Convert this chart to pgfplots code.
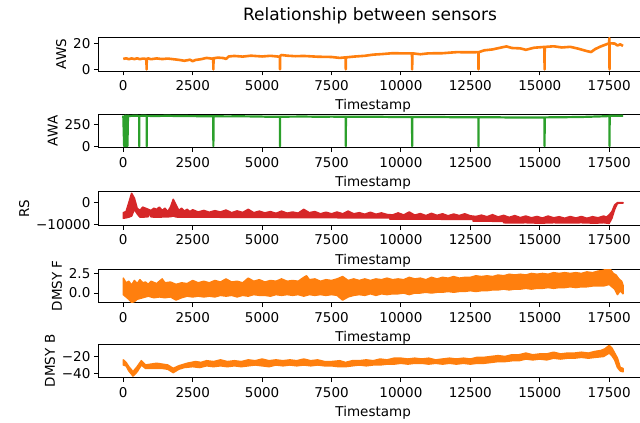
\documentclass[border=0pt]{standalone}
\usepackage{pgfplots}
\pgfplotsset{compat=1.18}
\usepackage{fontspec}
\setmainfont{DejaVu Sans}
\definecolor{tabor}{HTML}{FF7F0E}
\definecolor{tabgr}{HTML}{2CA02C}
\definecolor{tabrd}{HTML}{D62728}
\pgfplotsset{
 sub/.style={scale only axis, width=549.7pt, height=33.7pt, xmin=-900, xmax=18900, anchor=north west,
  xtick={0,2500,...,17500}, xticklabels={0,2500,5000,7500,10000,12500,15000,17500},
  scaled ticks=false,
  tick align=outside, tick pos=left, major tick length=4.4pt,
  tick style={black, line width=1pt}, axis line style={line width=1pt},
  ticklabel style={font=\fontsize{13.5}{15}\selectfont},
  xticklabel style={yshift=-1.5pt},
  label style={font=\fontsize{13.5}{15}\selectfont},
  xlabel={Timestamp}, xlabel style={yshift=-2pt}, clip=true,
  /pgf/number format/assume math mode=true},
}
\begin{document}
\begin{tikzpicture}
\node[font=\fontsize{17}{20}\selectfont] at (370pt,-16pt) {Relationship between sensors};
% AWS
\begin{axis}[sub, at={(98.3pt,-37.3pt)}, ymin=-1.25, ymax=24.6, ytick={0,20}, yticklabels={0,20}, ylabel={AWS}]
\addplot[tabor, line width=2.6pt, line join=round] coordinates {
(0,8)(100,8.5)(200,7.8)(300,8.4)(400,7.9)(500,8.5)(600,7.8)(700,8.3)(835,8)(840,0)(845,8)(900,8.4)(1000,7.8)(1200,8.4)(1400,7.9)(1600,8.3)(1800,7.8)(2000,7.3)(2200,6.6)(2400,7.4)(2500,6.3)(2600,7.2)(2800,7.8)(3000,8.8)(3200,8.2)(3240,8.5)(3245,0)(3250,8.5)(3400,9)(3600,8.7)(3700,8)(3800,9.9)(4000,10.3)(4300,9.8)(4600,10.5)(5000,9.9)(5300,10.4)(5640,9.7)(5645,0)(5650,10.3)(5700,11)(5900,10.5)(6200,10.1)(6500,10.3)(7000,9.7)(7500,9.5)(7800,8.8)(8010,9.2)(8015,0)(8020,9.2)(8300,9.8)(8700,10.4)(9000,11.3)(9300,11.7)(9700,12.4)(10000,12.3)(10400,12.3)(10405,0)(10410,12.3)(10700,11.6)(11000,12.3)(11500,12.4)(12000,13.2)(12500,13.1)(12790,13.2)(12795,0)(12800,13.2)(13000,14.6)(13300,15.3)(13600,16.7)(13800,17.6)(14000,16.4)(14300,16.1)(14500,15)(14800,16.6)(15100,17.1)(15170,17.2)(15175,0)(15180,17.2)(15500,17.7)(15800,16.8)(16100,17.3)(16400,15.8)(16700,14)(16850,13.3)(17000,15.6)(17200,17.6)(17400,19.2)(17500,20)(17510,24)(17515,0)(17520,20)(17700,19.8)(17800,18.3)(17900,19.2)(18000,18)};
\end{axis}
% AWA
\begin{axis}[sub, at={(98.3pt,-114pt)}, ymin=-18, ymax=378, ytick={0,250}, yticklabels={0,250}, ylabel={AWA}]
\addplot[tabgr, line width=2.2pt, line join=round] coordinates {
(0,360)(30,0)(50,358)(70,0)(90,360)(110,0)(130,357)(150,0)(170,359)(200,355)(400,357)(570,356)(575,0)(580,356)(800,357)(840,356)(845,0)(850,356)(1200,355)(1600,357)(2000,354)(2500,353)(3000,352)(3240,352)(3245,0)(3250,352)(3700,350)(4200,351)(4800,349)(5200,346)(5640,345)(5645,0)(5650,345)(6000,347)(6500,348)(7000,346)(7500,347)(8010,346)(8015,0)(8020,346)(8500,345)(9000,346)(9500,344)(10000,343)(10400,343)(10405,0)(10410,343)(11000,342)(11500,342)(12000,340)(12790,340)(12795,0)(12800,340)(13500,339)(14000,337)(14500,338)(15000,338)(15170,338)(15175,0)(15180,338)(15600,340)(16000,341)(16500,343)(17000,348)(17400,352)(17510,355)(17515,0)(17520,357)(17700,358)(18000,357)};
\end{axis}
% RS
\begin{axis}[sub, at={(98.3pt,-191.7pt)}, ymin=-10200, ymax=4900, ytick={-10000,0}, yticklabels={−10000,0}, ylabel={RS}]
\addplot[tabrd, fill=tabrd, line width=1.5pt, line join=round] coordinates {
(0,-4500)(100,-4000)(200,0)(300,4200)(400,2000)(500,-2500)(600,-3500)(700,-2000)(800,-2500)(900,-3000)(1000,-3500)(1100,-2500)(1200,-3000)(1300,-2000)(1400,-3500)(1500,-2500)(1600,-4000)(1700,-2000)(1800,1500)(1900,-1000)(2000,-3500)(2100,-2500)(2200,-3800)(2300,-3000)(2400,-4000)(2500,-3200)(2700,-4200)(2900,-3500)(3100,-4300)(3300,-3600)(3500,-4200)(3700,-3300)(3900,-4500)(4100,-3700)(4300,-4400)(4500,-3000)(4700,-4500)(4900,-3800)(5100,-4600)(5300,-4000)(5500,-4800)(5700,-3800)(5900,-4700)(6100,-4200)(6300,-4700)(6500,-3000)(6700,-4500)(6900,-4000)(7100,-5000)(7300,-4300)(7500,-5000)(7700,-4200)(7900,-5000)(8100,-3800)(8300,-5000)(8500,-4500)(8700,-5200)(8900,-4300)(9100,-5200)(9300,-4600)(9500,-5300)(9700,-5500)(9900,-4600)(10100,-5500)(10300,-4200)(10500,-5600)(10700,-4900)(10900,-5800)(11100,-4800)(11300,-5700)(11500,-5000)(11700,-5900)(11900,-5100)(12100,-5800)(12300,-5000)(12500,-5900)(12700,-6200)(12900,-5600)(13100,-6300)(13300,-5400)(13500,-6400)(13700,-5700)(13900,-6600)(14100,-5800)(14300,-6700)(14500,-6000)(14700,-6800)(14900,-6200)(15100,-6900)(15300,-6000)(15500,-6800)(15700,-6300)(15900,-7000)(16100,-6200)(16300,-6900)(16500,-6200)(16700,-7000)(16900,-6300)(17100,-6800)(17300,-6000)(17400,-6500)(17500,-5500)(17600,-4000)(17700,-1000)(17800,0)(18000,0)
(18000,-200)(17800,-300)(17700,-3000)(17600,-7000)(17500,-9300)(17300,-9000)(17000,-9200)(16500,-9000)(16000,-9100)(15500,-9000)(15000,-9200)(14500,-9000)(14000,-9100)(13700,-9000)(13700,-8400)(13000,-8300)(12600,-8300)(12600,-7500)(12000,-7500)(11000,-7400)(10000,-7400)(9600,-7400)(9600,-6800)(9000,-6800)(8000,-6800)(7000,-6700)(6000,-6700)(5000,-6600)(4000,-6600)(3000,-6500)(2000,-6500)(1900,-6400)(1800,-6000)(1700,-6300)(1500,-6400)(1200,-6500)(1000,-6400)(950,-4500)(900,-6300)(700,-6500)(600,-6500)(500,-5000)(400,-3000)(300,-6000)(200,-6500)(100,-6800)(0,-7000)} -- cycle;
\end{axis}
% DMSY F
\begin{axis}[sub, at={(98.3pt,-269pt)}, ymin=-1.24, ymax=3.07, ytick={0,2.5}, yticklabels={0.0,2.5}, ylabel={DMSY F}]
\addplot[tabor, fill=tabor, line width=1.5pt, line join=round] coordinates {
(0,1.9)(100,1.3)(200,1.5)(300,1.0)(400,1.6)(500,1.2)(600,1.7)(700,1.3)(800,1.4)(900,1.1)(1000,1.5)(1200,1.2)(1400,1.8)(1500,1.3)(1700,1.4)(1900,1.1)(2100,1.3)(2300,1.2)(2500,1.6)(2700,1.3)(2900,1.5)(3100,1.3)(3300,1.6)(3500,1.4)(3700,1.8)(3900,1.4)(4100,1.5)(4300,1.3)(4500,1.9)(4700,1.5)(4900,1.7)(5100,1.4)(5300,1.6)(5500,1.5)(5700,1.8)(5900,1.5)(6100,1.6)(6300,1.5)(6500,2.0)(6600,2.2)(6700,1.7)(6900,1.8)(7100,1.5)(7300,1.7)(7500,1.6)(7700,1.8)(7900,2.1)(8100,1.6)(8300,1.8)(8500,1.6)(8700,1.8)(8900,1.6)(9100,1.8)(9300,1.7)(9500,1.9)(9700,1.7)(9900,1.8)(10100,1.7)(10300,2.0)(10500,1.8)(10700,1.9)(10900,1.7)(11100,2.0)(11300,1.8)(11500,2.0)(11700,1.9)(11900,2.1)(12100,1.9)(12300,2.0)(12500,2.0)(12700,2.2)(12900,2.1)(13100,2.2)(13300,2.1)(13500,2.3)(13700,2.2)(13900,2.4)(14100,2.3)(14300,2.4)(14500,2.3)(14700,2.5)(14900,2.4)(15100,2.5)(15300,2.4)(15500,2.6)(15700,2.5)(15900,2.6)(16100,2.5)(16300,2.6)(16500,2.5)(16700,2.7)(16900,2.6)(17100,2.8)(17300,2.9)(17450,3.2)(17550,3.0)(17650,2.5)(17750,2.3)(17850,1.8)(17950,1.5)(18000,1.0)
(18000,-0.1)(17900,0.3)(17800,-0.2)(17700,0.5)(17600,0.8)(17500,1.1)(17300,0.9)(17100,0.9)(16900,0.9)(16700,0.8)(16500,0.8)(16300,0.7)(16100,0.8)(15900,0.7)(15700,0.7)(15500,0.6)(15300,0.7)(15100,0.6)(14900,0.6)(14700,0.5)(14500,0.6)(14300,0.5)(14100,0.5)(13900,0.4)(13700,0.5)(13500,0.4)(13300,0.4)(13100,0.3)(12900,0.3)(12700,0.2)(12500,0.3)(12300,0.2)(12100,0.2)(11900,0.1)(11700,0.2)(11500,0.1)(11300,0.1)(11100,0.0)(10900,0.1)(10700,0.0)(10500,0.0)(10300,-0.2)(10100,0.0)(9900,-0.1)(9700,-0.1)(9500,-0.2)(9300,-0.1)(9100,-0.3)(8900,-0.1)(8700,-0.3)(8500,-0.2)(8300,-0.3)(8100,-0.5)(7900,-0.9)(7700,-0.3)(7500,-0.2)(7300,-0.3)(7100,-0.2)(6900,-0.3)(6700,-0.2)(6500,-0.4)(6300,-0.2)(6100,-0.3)(5900,-0.2)(5700,-0.3)(5500,-0.2)(5300,-0.4)(5100,-0.3)(4900,-0.3)(4700,-0.2)(4500,-0.4)(4300,-0.3)(4100,-0.5)(3900,-0.3)(3700,-0.4)(3500,-0.3)(3300,-0.5)(3100,-0.4)(2900,-0.5)(2700,-0.4)(2500,-0.5)(2300,-0.4)(2100,-0.6)(1900,-0.9)(1700,-0.5)(1500,-0.6)(1300,-0.5)(1100,-0.6)(900,-0.4)(700,-0.6)(500,-0.8)(400,-1.1)(300,-1.2)(200,-0.8)(100,-0.5)(0,-0.2)} -- cycle;
\end{axis}
% DMSY B
\begin{axis}[sub, at={(98.3pt,-344pt)}, ymin=-45, ymax=-5.3, ytick={-40,-20}, yticklabels={−40,−20}, ylabel={DMSY B}]
\addplot[tabor, fill=tabor, line width=1.5pt, line join=round] coordinates {
(0,-24)(100,-27)(200,-32)(350,-38)(500,-32)(650,-25)(800,-30)(1000,-29)(1200,-28)(1400,-29)(1600,-30)(1800,-34)(2000,-31)(2300,-28)(2600,-26)(2800,-27)(3000,-25)(3250,-26)(3500,-24)(3750,-26)(4000,-25)(4250,-26)(4500,-24)(4750,-25)(5000,-23)(5250,-25)(5500,-24)(5750,-25)(6000,-24)(6250,-25)(6500,-23)(6750,-25)(7000,-24)(7250,-26)(7500,-26)(7800,-25)(8000,-27)(8250,-25)(8500,-25)(8750,-24)(9000,-25)(9250,-23)(9500,-24)(9750,-22)(10000,-22)(10250,-23)(10500,-22)(10750,-23)(11000,-22)(11250,-24)(11500,-23)(11750,-22)(12000,-23)(12250,-22)(12500,-23)(12750,-21)(13000,-21)(13250,-20)(13500,-19)(13750,-20)(14000,-18)(14250,-18)(14500,-16)(14750,-18)(15000,-17)(15250,-17)(15500,-15)(15750,-17)(16000,-16)(16250,-16)(16500,-15)(16750,-16)(17000,-14)(17200,-13)(17350,-11)(17500,-7)(17600,-10)(17700,-16)(17800,-22)(17900,-33)(18000,-34)
(18000,-38)(17900,-37)(17800,-33)(17700,-24)(17600,-19)(17500,-16)(17300,-20)(17000,-21)(16750,-22)(16500,-21)(16250,-22)(16000,-22)(15750,-23)(15500,-22)(15250,-24)(15000,-23)(14750,-24)(14500,-23)(14250,-25)(14000,-25)(13750,-26)(13500,-26)(13250,-27)(13000,-28)(12750,-28)(12500,-29)(12250,-28)(12000,-29)(11750,-28)(11500,-29)(11250,-28)(11000,-29)(10750,-28)(10500,-28)(10250,-29)(10000,-28)(9750,-29)(9500,-29)(9250,-30)(9000,-30)(8750,-31)(8500,-30)(8250,-31)(8000,-32)(7750,-32)(7500,-31)(7250,-31)(7000,-30)(6750,-31)(6500,-30)(6250,-31)(6000,-30)(5750,-31)(5500,-30)(5250,-32)(5000,-31)(4750,-30)(4500,-31)(4250,-32)(4000,-31)(3750,-32)(3500,-31)(3250,-32)(3000,-31)(2750,-33)(2500,-32)(2200,-33)(2000,-35)(1800,-39)(1600,-35)(1400,-34)(1200,-34)(1000,-34)(800,-34)(650,-30)(500,-38)(350,-43)(200,-37)(100,-31)(0,-30)} -- cycle;
\end{axis}
\pgfresetboundingbox
\useasboundingbox (0pt,0pt) rectangle (640pt,-423pt);
\end{tikzpicture}
\end{document}
